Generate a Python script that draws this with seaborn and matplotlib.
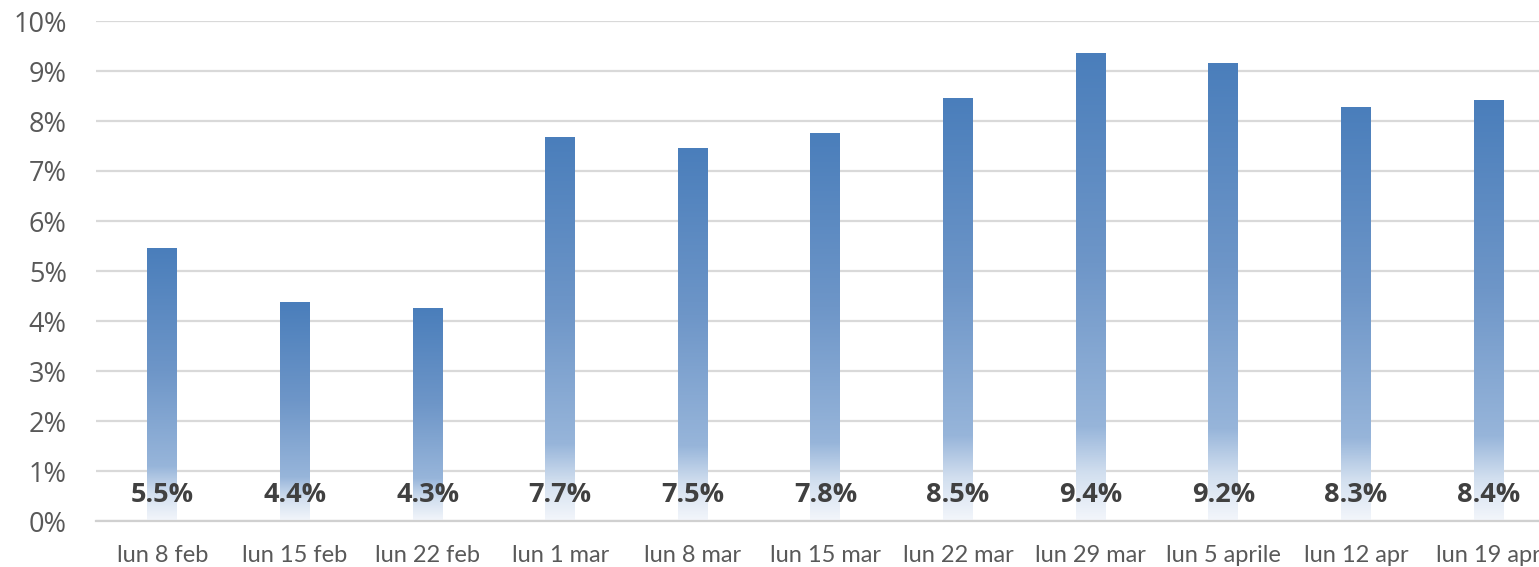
import numpy as np
import pandas as pd
import matplotlib
matplotlib.use("Agg")
import matplotlib.pyplot as plt
from matplotlib.colors import LinearSegmentedColormap
from matplotlib.ticker import PercentFormatter
import seaborn as sns

# Weekly values
weeks = ["lun 8 feb", "lun 15 feb", "lun 22 feb", "lun 1 mar", "lun 8 mar",
         "lun 15 mar", "lun 22 mar", "lun 29 mar", "lun 5 aprile", "lun 12 apr",
         "lun 19 apr"]
share = [0.0546, 0.0438, 0.0426, 0.0768, 0.0747, 0.0777, 0.0847, 0.0937,
         0.0917, 0.0828, 0.0843]

df = pd.DataFrame({"week": weeks, "share": share})

sns.set_theme(style="white")
plt.rcParams["font.family"] = ["Open Sans", "DejaVu Sans"]

fig = plt.figure(figsize=(15.39, 5.67), dpi=100)
ax = fig.add_axes([96 / 1539, 46 / 567, 1 - 96 / 1539, 500 / 567])

sns.barplot(data=df, x="week", y="share", width=0.226, color="#4A7EBB", ax=ax, zorder=2)

# vertical gradient: white at the bottom, blue at the top
grad = LinearSegmentedColormap.from_list(
    "bar_grad",
    [(0.0, "#F3F6FB"), (0.10, "#D2DFEF"), (0.20, "#97B5DA"),
     (0.55, "#6E96C8"), (1.0, "#4A7EBB")])
ramp = np.linspace(0, 1, 256).reshape(-1, 1)
for p in ax.patches:
    x0, w, h = p.get_x(), p.get_width(), p.get_height()
    im = ax.imshow(ramp, cmap=grad, origin="lower", aspect="auto",
                   extent=[x0, x0 + w, 0, h], zorder=2)
    im.set_clip_path(p)
    p.set_facecolor("none")
    p.set_edgecolor("none")

for i, v in enumerate(share):
    ax.text(i, 0.0052, f"{v * 100:.1f}%", ha="center", va="center",
            fontsize=19.5, fontweight="bold", color="#404040", zorder=4)

ax.set_xlim(-0.5, 10.38)
ax.set_ylim(0, 0.10)
ax.set_yticks(np.arange(0, 0.101, 0.01))
ax.yaxis.set_major_formatter(PercentFormatter(1.0, decimals=0))
ax.grid(axis="y", color="#D9D9D9", linewidth=1.6, zorder=0)
ax.set_axisbelow(True)
for s in ["top", "right", "left"]:
    ax.spines[s].set_visible(False)
ax.spines["bottom"].set_color("#D0D0D0")
ax.spines["bottom"].set_linewidth(1.6)
ax.tick_params(axis="y", length=0, pad=21, labelsize=19.5, labelcolor="#595959")
ax.tick_params(axis="x", length=0, pad=17, labelsize=17, labelcolor="#595959")
for lbl in ax.get_xticklabels():
    lbl.set_family(["Lato", "DejaVu Sans"])
ax.set_xlabel("")
ax.set_ylabel("")

fig.savefig("out.png", dpi=100)
